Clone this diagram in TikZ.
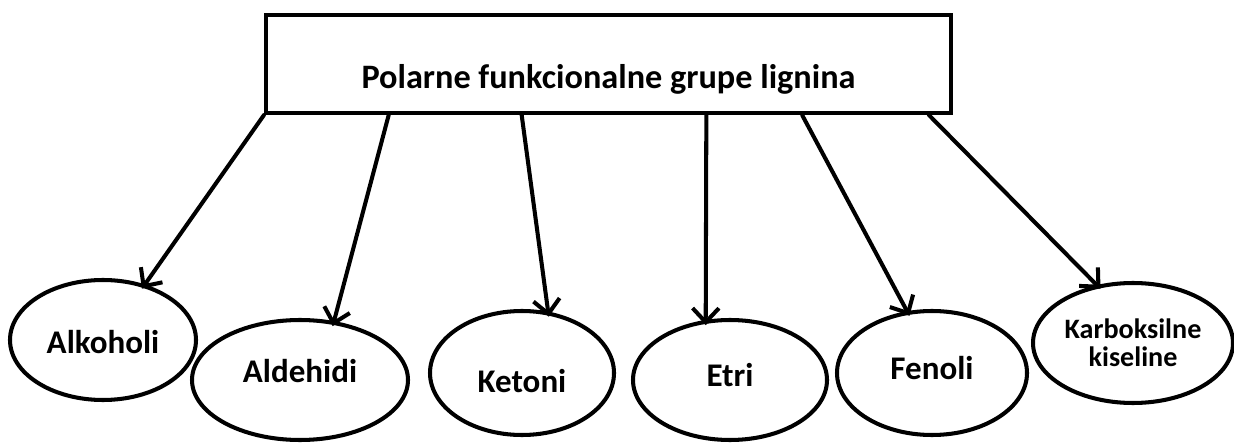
\documentclass[tikz,border=0pt]{standalone}
\usepackage{fontspec}
\setmainfont{Carlito}
\usepackage{tikz}
\usetikzlibrary{positioning,arrows.meta,calc,shapes.geometric}

\begin{document}
\begin{tikzpicture}[
  font=\bfseries\fontsize{18.8}{22}\selectfont, >={Straight Barb[length=8pt, width=15pt]},
  line width=2.3pt,
  grp/.style={draw, rectangle, minimum width=13.7cm, minimum height=1.96cm, inner sep=0pt, text height=31pt, font=\bfseries\fontsize{19.5}{22}\selectfont},
  cls/.style={draw, ellipse, inner sep=0pt, minimum height=2.4cm, align=center, text depth=0pt, text height=#1},
  cls/.default=12pt,
  arr/.style={->, line cap=round, shorten >=-3pt}]
\useasboundingbox (0,0) rectangle (24.68,8.86);
% ---------------- top box
\node[grp] (grupe) at (12.17,7.58) {Polarne funkcionalne grupe lignina};
% ---------------- groups
\node[cls=15pt, minimum width=3.72cm] (alk) at (2.06,2.06) {Alkoholi};
\node[cls=3pt, minimum width=4.32cm] (ald) at (6.00,1.26) {Aldehidi};
\node[cls=22pt, minimum width=3.68cm, minimum height=2.48cm] (ket) at (10.44,1.40) {Ketoni};
\node[cls=7.5pt, minimum width=3.88cm] (etr) at (14.60,1.26) {Etri};
\node[cls=7.5pt, minimum width=3.80cm, minimum height=2.48cm] (fen) at (18.64,1.40) {Fenoli};
\node[draw, ellipse, inner sep=0pt, minimum height=2.4cm, minimum width=4.00cm, align=center,
  font=\bfseries\fontsize{16}{16}\selectfont] (karb) at (22.66,2.00) {Karboksilne\\kiseline};
% arrows from the box
\foreach \f/\n/\a in {0/alk/53, 0.181/ald/60, 0.374/ket/67, 0.642/etr/112, 0.781/fen/112, 0.965/karb/122}
  \draw[arr] ($(grupe.south west)!\f!(grupe.south east)$) -- (\n.\a);
\end{tikzpicture}
\end{document}
